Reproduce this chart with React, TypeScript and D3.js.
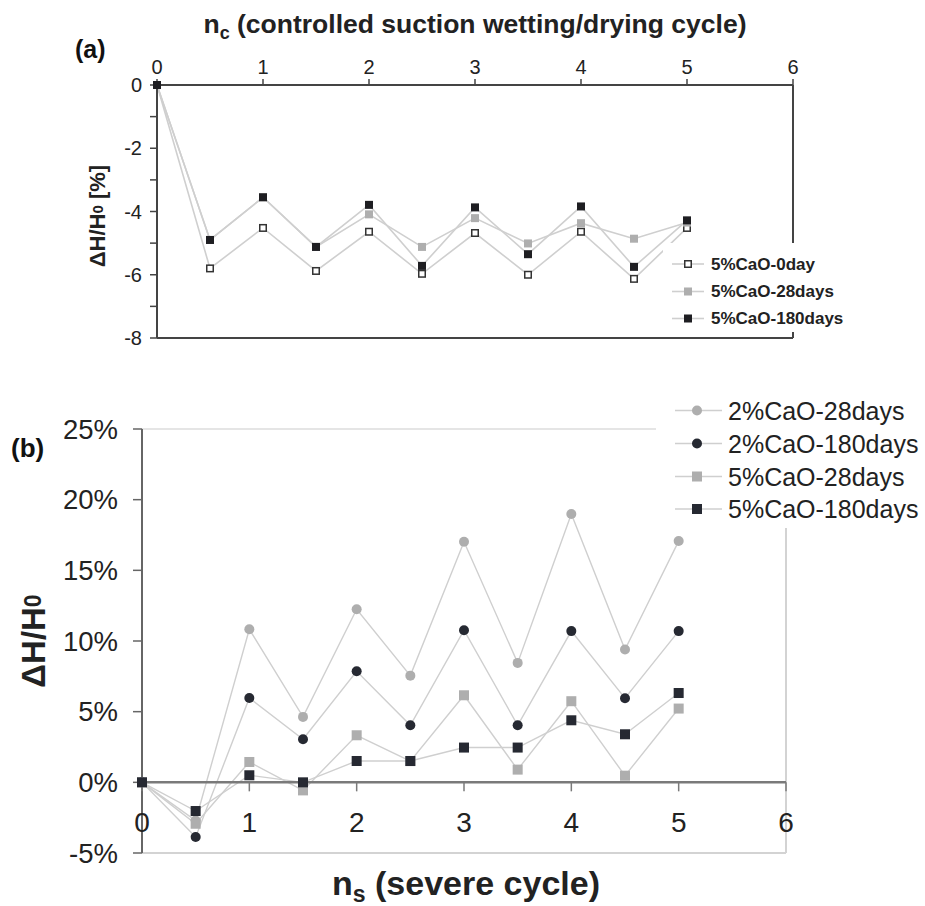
import React from "react";
import * as d3 from "d3";

// ---------- data ----------
const cycles = [0, 0.5, 1, 1.5, 2, 2.5, 3, 3.5, 4, 4.5, 5];

// panel (a): controlled suction cycles, ΔH/H0 [%]
const a5CaO0day = [0, -5.8, -4.52, -5.88, -4.64, -5.97, -4.68, -6.0, -4.64, -6.13, -4.52];
const a5CaO28days = [0, -4.9, -3.55, -5.12, -4.09, -5.12, -4.21, -5.01, -4.37, -4.86, -4.35];
const a5CaO180days = [0, -4.9, -3.55, -5.12, -3.79, -5.72, -3.87, -5.35, -3.84, -5.75, -4.28];

// panel (b): severe cycles, ΔH/H0 [%]
const b2CaO28days = [0, -2.7, 10.83, 4.63, 12.25, 7.55, 17.02, 8.45, 18.98, 9.4, 17.07];
const b2CaO180days = [0, -3.87, 5.97, 3.05, 7.86, 4.04, 10.76, 4.04, 10.7, 5.95, 10.7];
const b5CaO28days = [0, -2.93, 1.44, -0.57, 3.33, 1.5, 6.16, 0.9, 5.74, 0.47, 5.22];
const b5CaO180days = [0, -2.03, 0.5, 0, 1.51, 1.51, 2.46, 2.46, 4.39, 3.4, 6.32];

const xTicks = [0, 1, 2, 3, 4, 5, 6];
const aYTicks = [0, -1, -2, -3, -4, -5, -6, -7, -8];
const aYLabels = [0, -2, -4, -6, -8];
const bYTicks = [25, 20, 15, 10, 5, 0, -5];

const aLegend = ["5%CaO-0day", "5%CaO-28days", "5%CaO-180days"];
const bLegend = ["2%CaO-28days", "2%CaO-180days", "5%CaO-28days", "5%CaO-180days"];

const FONT = "'Liberation Sans', Arial, Helvetica, sans-serif";
const LIGHT = "#aeaeae";
const DARK = "#262932";
const LINE = "#cfcfcf";

export default function App() {
  // scales
  const xA = d3.scaleLinear().domain([0, 6]).range([157, 793]);
  const yA = d3.scaleLinear().domain([-8, 0]).range([338, 85]);
  const xB = d3.scaleLinear().domain([0, 6]).range([142, 786]);
  const yB = d3.scaleLinear().domain([-5, 25]).range([853, 429]);

  const lineA = (vals: number[]) =>
    d3.line<number>().x((_, i) => xA(cycles[i])).y((d) => yA(d))(vals) || "";
  const lineB = (vals: number[]) =>
    d3.line<number>().x((_, i) => xB(cycles[i])).y((d) => yB(d))(vals) || "";

  const aSeries = [
    { vals: a5CaO0day, fill: "#fff", stroke: "#333" },
    { vals: a5CaO28days, fill: LIGHT, stroke: "none" },
    { vals: a5CaO180days, fill: "#1e1e22", stroke: "none" },
  ];
  const bSeries = [
    { vals: b2CaO28days, fill: LIGHT, shape: "circle" },
    { vals: b2CaO180days, fill: DARK, shape: "circle" },
    { vals: b5CaO28days, fill: LIGHT, shape: "square" },
    { vals: b5CaO180days, fill: DARK, shape: "square" },
  ];

  const sqA = 8;
  const sqB = 10;

  const aSquare = (cx: number, cy: number, fill: string, stroke: string, key: string) =>
    stroke === "none" ? (
      <rect key={key} x={cx - sqA / 2} y={cy - sqA / 2} width={sqA} height={sqA} fill={fill} />
    ) : (
      <rect key={key} x={cx - sqA / 2 + 0.75} y={cy - sqA / 2 + 0.75} width={sqA - 1.5} height={sqA - 1.5} fill={fill} stroke={stroke} strokeWidth={1.5} />
    );

  const bMarker = (cx: number, cy: number, fill: string, shape: string, key: string) =>
    shape === "circle" ? (
      <circle key={key} cx={cx} cy={cy} r={5} fill={fill} />
    ) : (
      <rect key={key} x={cx - sqB / 2} y={cy - sqB / 2} width={sqB} height={sqB} fill={fill} />
    );

  const aLegY = [264, 291.5, 318.5];
  const bLegY = [410.5, 443.5, 476.5, 509];

  return (
    <svg
      width={925}
      height={906}
      viewBox="0 0 925 906"
      style={{ position: "absolute", left: 0, top: 0, background: "#fff" }}
      fontFamily={FONT}
    >
      <rect x={0} y={0} width={925} height={906} fill="#fff" />

      {/* ================= Panel (a) ================= */}
      <text x={75} y={58} fontSize={25} fontWeight="bold" fill="#111">(a)</text>
      <text x={475} y={33} fontSize={26.5} fontWeight="bold" fill="#222" textAnchor="middle">
        n<tspan fontSize={18} dy={6}>c</tspan>
        <tspan dy={-6}> (controlled suction wetting/drying cycle)</tspan>
      </text>
      <text
        transform={`translate(97,216) rotate(-90)`}
        fontSize={22}
        fontWeight="bold"
        fill="#222"
        textAnchor="middle"
        dominantBaseline="central"
      >
        ΔH/H<tspan fontSize={15}>0</tspan> [%]
      </text>

      {/* data lines (a) */}
      {aSeries.map((s, i) => (
        <path key={`al${i}`} d={lineA(s.vals)} fill="none" stroke={LINE} strokeWidth={1.6} />
      ))}

      {/* frame (a) */}
      <line x1={157} x2={793} y1={yA(0)} y2={yA(0)} stroke="#444" strokeWidth={2} />
      <line x1={157} x2={793} y1={yA(-8)} y2={yA(-8)} stroke="#444" strokeWidth={2} />
      <line x1={157} x2={157} y1={yA(0)} y2={yA(-8)} stroke="#444" strokeWidth={2} />
      <line x1={793} x2={793} y1={yA(0)} y2={yA(-8)} stroke="#444" strokeWidth={2} />
      {xTicks.map((t) => (
        <g key={`axt${t}`}>
          <line x1={xA(t)} x2={xA(t)} y1={yA(0) - 6} y2={yA(0)} stroke="#444" strokeWidth={1.5} />
          <text x={xA(t)} y={74} fontSize={20} textAnchor="middle" fill="#222">{t}</text>
        </g>
      ))}
      {aYTicks.map((t) => (
        <line key={`ayt${t}`} x1={150} x2={157} y1={yA(t)} y2={yA(t)} stroke="#444" strokeWidth={1.5} />
      ))}
      {aYLabels.map((t) => (
        <text key={`ayl${t}`} x={142} y={yA(t)} fontSize={20} textAnchor="end" dominantBaseline="central" fill="#222">
          {t}
        </text>
      ))}

      {/* markers (a) */}
      {aSeries.map((s, i) =>
        s.vals.map((v, j) => aSquare(xA(cycles[j]), yA(v), s.fill, s.stroke, `am${i}-${j}`))
      )}

      {/* legend (a) */}
      <rect x={663} y={243} width={185} height={90} fill="#fff" />
      {aLegend.map((name, i) => (
        <g key={`alg${i}`}>
          <line x1={672} x2={704} y1={aLegY[i]} y2={aLegY[i]} stroke={LINE} strokeWidth={1.6} />
          {aSquare(688, aLegY[i], aSeries[i].fill, aSeries[i].stroke, `alm${i}`)}
          <text x={711} y={aLegY[i]} fontSize={17} fontWeight="bold" dominantBaseline="central" fill="#222">
            {name}
          </text>
        </g>
      ))}
      <line x1={793} x2={793} y1={332} y2={338} stroke="#444" strokeWidth={2} />

      {/* ================= Panel (b) ================= */}
      <text x={11} y={457} fontSize={26} fontWeight="bold" fill="#111">(b)</text>
      <text
        transform={`translate(33,641) rotate(-90)`}
        fontSize={33}
        fontWeight="bold"
        fill="#222"
        textAnchor="middle"
        dominantBaseline="central"
      >
        ΔH/H<tspan fontSize={23}>0</tspan>
      </text>
      <text x={466} y={895} fontSize={34} fontWeight="bold" fill="#222" textAnchor="middle">
        n<tspan fontSize={23} dy={7}>s</tspan>
        <tspan dy={-7}> (severe cycle)</tspan>
      </text>

      {/* borders / grid (b) */}
      <line x1={142} x2={656} y1={yB(25)} y2={yB(25)} stroke="#dcdcdc" strokeWidth={1.5} />
      <line x1={142} x2={786} y1={yB(-5)} y2={yB(-5)} stroke="#d3d3d3" strokeWidth={2} />
      <line x1={786} x2={786} y1={528} y2={yB(-5)} stroke="#d3d3d3" strokeWidth={2} />

      {/* data lines (b) */}
      {bSeries.map((s, i) => (
        <path key={`bl${i}`} d={lineB(s.vals)} fill="none" stroke={LINE} strokeWidth={1.4} />
      ))}

      {/* axes (b) */}
      <line x1={142} x2={786} y1={yB(0)} y2={yB(0)} stroke="#7a7a7a" strokeWidth={2.5} />
      <line x1={142} x2={142} y1={yB(25)} y2={yB(-5)} stroke="#666" strokeWidth={2} />
      {bYTicks.map((t) => (
        <g key={`byt${t}`}>
          <line x1={133} x2={142} y1={yB(t)} y2={yB(t)} stroke="#666" strokeWidth={1.5} />
          <text x={118} y={yB(t)} fontSize={27.5} textAnchor="end" dominantBaseline="central" fill="#222">
            {`${t}%`}
          </text>
        </g>
      ))}
      {xTicks.map((t) => (
        <g key={`bxt${t}`}>
          <line x1={xB(t)} x2={xB(t)} y1={yB(0)} y2={yB(0) + 9} stroke="#7a7a7a" strokeWidth={1.5} />
          <text x={xB(t)} y={832} fontSize={28} textAnchor="middle" fill="#222">{t}</text>
        </g>
      ))}

      {/* markers (b) */}
      {bSeries.map((s, i) =>
        s.vals.map((v, j) => bMarker(xB(cycles[j]), yB(v), s.fill, s.shape, `bm${i}-${j}`))
      )}

      {/* legend (b) */}
      {bLegend.map((name, i) => (
        <g key={`blg${i}`}>
          <line x1={675} x2={722} y1={bLegY[i]} y2={bLegY[i]} stroke={LINE} strokeWidth={1.4} />
          {bMarker(697, bLegY[i], bSeries[i].fill, bSeries[i].shape, `blm${i}`)}
          <text x={728} y={bLegY[i]} fontSize={25} dominantBaseline="central" fill="#222">
            {name}
          </text>
        </g>
      ))}
    </svg>
  );
}
